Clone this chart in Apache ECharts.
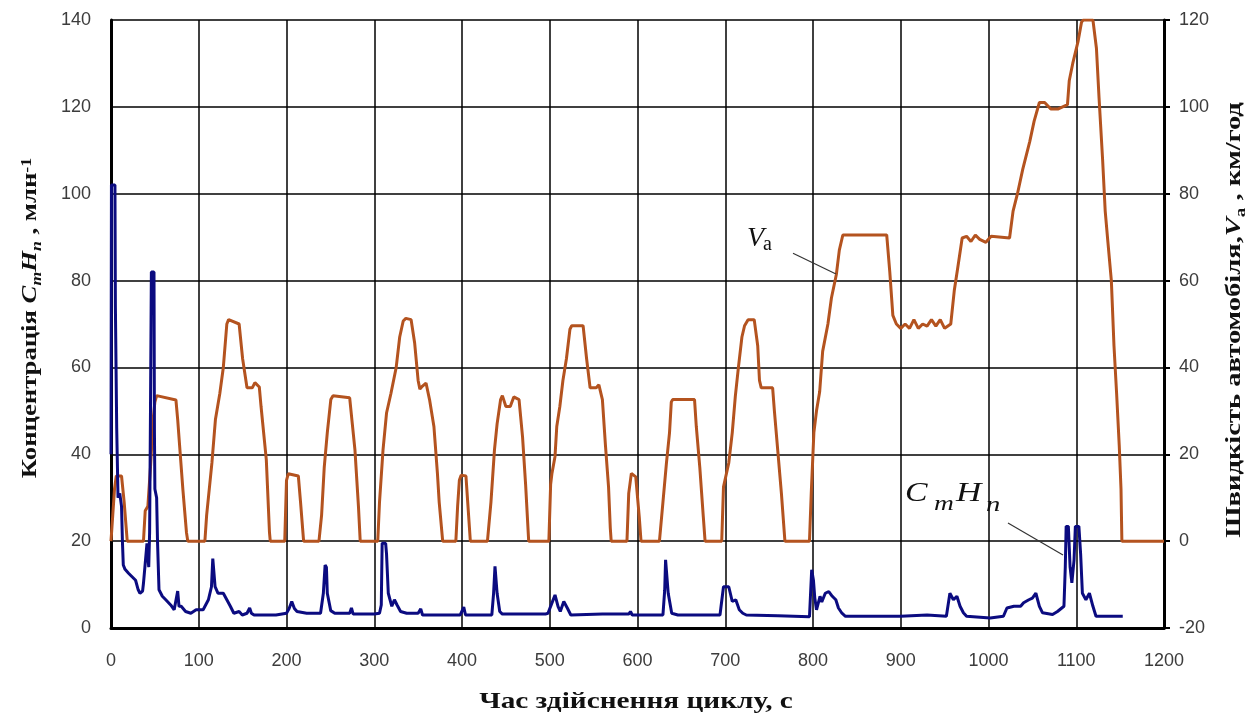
<!DOCTYPE html>
<html>
<head>
<meta charset="utf-8">
<script src="https://cdn.jsdelivr.net/npm/echarts@6/dist/echarts.min.js"></script>
<style>
html,body{margin:0;padding:0;background:#fff;}
#chart{width:1247px;height:720px;}
</style>
</head>
<body>
<div id="chart"></div>
<script>
// ---- data ----
// vehicle speed, km/h  [time s, speed]
const speedData = [
[0,0],[2,6],[4,12],[6,15],[12,15],[15,9],[18.5,0],
[37,0],[39,7],[42,8],[45,17],[48,28],[50,32],[52,33.5],[74,32.5],[76,28],[78,22.5],[82,11.7],[86,2],[87.5,0],
[107,0],[109,6],[115,18],[119,28],[124,34],[128,40],[132,50],[134,51],[146,50],[150,42],[155,35.3],[161,35.3],[164,36.5],[169,35.5],[171,31],[177,18.7],[180.6,2],[181.5,0],
[198,0],[200,14],[202,15.5],[213.5,15],[216,9],[219.5,0],
[237,0],[240,6],[243,17],[246.5,25],[250.5,32.6],[253,33.5],[272,33],[275,27],[278,21],[282,8],[284,0],
[304,0],[306,9],[310,21],[314,29.5],[319,34],[325,40],[329,47],[333,50.7],[336,51.3],[342,51],[346,45.7],[350,37],[352,35],[355,35.7],[359,36.4],[363,32.6],[368,26.4],[372,15.6],[374,9],[378,0],
[393,0],[395,8],[397,14],[399,15.2],[404.5,15],[406.5,9],[409.5,0],
[429,0],[433,9],[437,21],[440,27],[444,32.6],[446,33.5],[450,31],[455,31],[459,33.2],[465,32.6],[469,24],[472.5,13],[476,0],
[499,0],[501,13],[502.5,15.6],[506,19.5],[508,26.4],[511.5,31],[515,37],[519,42],[523,48.8],[525,49.6],[538,49.6],[542,42],[546,35.3],[553,35.3],[556,36],[560,32.6],[563.5,22],[567,12.5],[569,3],[570,0],
[588,0],[590,11],[593,15.6],[595,15.8],[598,14.8],[602,5.6],[604,0],
[625,0],[629,9],[633,18],[636.5,25],[638.5,32],[640,32.6],[665,32.6],[667,26.4],[671,17],[675,5.6],[677,0],
[696,0],[698,12.5],[704,18],[708,25],[711.5,33.4],[715,40],[719,47],[722,49.6],[726,51],[733,51],[737,45],[739,37],[741,35.3],[754,35.3],[756,30],[760,20.5],[764,11],[768,0],
[796,0],[798,11],[801,25],[804,30],[807.6,34.4],[811,43.7],[817,50],[821,56],[826.6,61.4],[830,67],[834,70.5],[884,70.5],[887.5,62],[891,52],[895,50],[900,49],[905,50],[910,49],[915,51],[920,49],[925,50],[930,49.5],[935,51],[940,49.5],[945,51],[950,49],[957,50],[961,57.7],[965,63],[970,69.8],[975,70.2],[980,69],[985,70.5],[990,69.5],[997,68.8],[1003,70.2],[1024,69.8],[1028,76],[1033,80],[1039,85.6],[1047,92],[1052,96.7],[1058,101],[1064,101],[1071,99.5],[1079,99.5],[1090,100.5],[1092,106],[1096,110],[1102,115],[1106,119.5],[1108,120],[1119,120],[1123,113.5],[1126,102],[1130,88],[1133,76],[1136,69],[1140,60],[1143,45],[1146,34],[1149,22],[1151,12],[1152,0],[1200,0]
];
// CmHn concentration, ppm  [time s, value]
const hcData = [
[0,40],[0.5,102],[4.5,102],[5,74],[6,74],[6.5,46],[7.5,46],[8,30],[10,31],[12,28],[13,20],[14,14.5],[16,13.5],[20,12.6],[24,11.8],[28,11],[31,8.8],[33,8],[36,8.5],[37,10.3],[39,14.9],[41,19.5],[43,14],[44,22],[45,50],[46,82],[49,82],[49.5,45],[50,32],[52,30],[53,20],[54.7,8.8],[58.5,7.3],[62.4,6.5],[68,5.3],[72,4.2],[74,4.5],[76,8.5],[77.5,5],[80,5],[85,3.8],[91,3.4],[97,4.2],[105,4.2],[111,6.5],[114.5,9.5],[116,16],[117.5,16],[118.6,9.5],[122,8],[128,8],[132,6.5],[136,5],[140,3.4],[146,3.8],[149.6,3],[155,3.4],[158,4.6],[160,3.4],[163,3],[188,3],[200,3.4],[203,4.5],[206,6.1],[209,4.5],[212,3.8],[223,3.4],[238.8,3.4],[242,8],[244,14.5],[245.5,14],[246.5,8],[250.4,4],[255,3.4],[272,3.4],[274,4.6],[276,3.2],[300,3.2],[306,3.4],[308,5.3],[309,19.5],[313,19.5],[314,17],[316,8],[320,5],[323,6.5],[326,5.3],[330,3.8],[337,3.4],[350,3.4],[353,4.4],[355,3],[398,3],[400,3.4],[402,4.8],[404,3],[434,3],[436,8],[437.6,14.2],[439,13.8],[440,8],[443,3.8],[446,3.2],[470,3.2],[495,3.2],[498,3.4],[502,5.5],[506,7.6],[509.5,4.9],[512,3.8],[516,6.1],[520,4.6],[524,3],[560,3.2],[590,3.2],[592,3.8],[594,3],[629,3],[631,8.7],[632,15.7],[633.5,15.3],[635,8],[639,3.4],[646,3],[680,3],[694,3],[698,9.5],[704,9.5],[708,6.1],[712,6.5],[716,4.2],[720,3.4],[724,3],[760,2.8],[796,2.6],[798.5,13.4],[800.5,11],[802,7],[804,4.2],[808,7.3],[810,6],[814,8],[818,8.4],[822,7.3],[826,6.5],[829,4.6],[833,3.4],[837,2.7],[900,2.7],[930,3],[952,2.7],[956,8],[960,6.5],[964,7.3],[967.6,5],[971.4,3.5],[975,2.7],[1002,2.3],[1017,2.7],[1021,4.6],[1029,5],[1036.6,5],[1040,5.8],[1046,6.5],[1050,6.9],[1054,8],[1058,5],[1061.6,3.5],[1073,3.1],[1078.6,3.8],[1086,5],[1087.5,14],[1088.5,23.4],[1091,23.4],[1093,14],[1095,10.4],[1097.5,15.7],[1099,23.4],[1103,23.4],[1105,17],[1107,8],[1111,6.5],[1115,8],[1119,5],[1122.5,2.7],[1153,2.7]
];
const xTicks = {min:0, max:1200, step:100};
const yLeftTicks = {min:0, max:140, step:20};
const yRightTicks = {min:-20, max:120, step:20};

// ---- chart ----
const serif = '"Liberation Serif","DejaVu Serif","Times New Roman",serif';
const sans = '"Liberation Sans","Arial",sans-serif';
const labelStyle = {fontFamily: sans, fontSize: 18, color: '#3c3c3c', formatter: v => String(v)};
const chart = echarts.init(document.getElementById('chart'), null, {renderer:'canvas'});

const option = {
  animation: false,
  backgroundColor: '#fff',
  grid: {left: 111, right: 83, top: 20, bottom: 92, containLabel: false},
  xAxis: {
    type: 'value', min: xTicks.min, max: xTicks.max, interval: xTicks.step,
    axisLine: {show: true, onZero: false, lineStyle: {color: '#000', width: 3}},
    axisTick: {show: false},
    splitLine: {show: true, lineStyle: {color: '#000', width: 1.5}},
    axisLabel: Object.assign({margin: 24}, labelStyle)
  },
  yAxis: [
    {
      type: 'value', position: 'left', min: yLeftTicks.min, max: yLeftTicks.max, interval: yLeftTicks.step,
      axisLine: {show: true, lineStyle: {color: '#000', width: 3}},
      axisTick: {show: false},
      splitLine: {show: true, lineStyle: {color: '#000', width: 1.5}},
      axisLabel: Object.assign({margin: 20}, labelStyle)
    },
    {
      type: 'value', position: 'right', min: yRightTicks.min, max: yRightTicks.max, interval: yRightTicks.step,
      axisLine: {show: true, lineStyle: {color: '#000', width: 3}},
      axisTick: {show: true, inside: false, length: 6, lineStyle: {color: '#000', width: 2}},
      splitLine: {show: false},
      axisLabel: Object.assign({margin: 15}, labelStyle)
    }
  ],
  series: [
    {
      name: 'Va', type: 'line', yAxisIndex: 1, data: speedData,
      showSymbol: false, smooth: false,
      lineStyle: {color: '#B4531F', width: 3},
      z: 2
    },
    {
      name: 'CmHn', type: 'line', yAxisIndex: 0, data: hcData,
      showSymbol: false, smooth: false,
      lineStyle: {color: '#0B0B80', width: 3},
      z: 3
    }
  ]
};
chart.setOption(option);

// annotation anchors in data coordinates (time, left-axis value)
const px = (t, v) => chart.convertToPixel({xAxisIndex: 0, yAxisIndex: 0}, [t, v]);
const pV = px(724.8, 89.6), pVa = px(743, 88.2), lV1 = px(777.2, 86.3), lV2 = px(826.2, 81.5);
const pC = px(904.8, 30.85), pm = px(937.9, 28.4), pH = px(963, 30.85), pn = px(997.1, 28.2);
const lC1 = px(1022.2, 24.2), lC2 = px(1084.9, 16.8);

function txt(p, text, size, italic, sx) {
  return {
    type: 'text', x: p[0], y: p[1], z: 10, scaleX: sx || 1,
    style: {text: text, fontFamily: serif, fontSize: size, fontStyle: italic ? 'italic' : 'normal',
            fill: '#111', align: 'left', verticalAlign: 'middle'}
  };
}

const titleRich = {
  t: {fontFamily: serif, fontSize: 21, fontWeight: 'bold', fill: '#111', lineHeight: 24, verticalAlign: 'top'},
  i: {fontFamily: serif, fontSize: 21, fontWeight: 'bold', fontStyle: 'italic', fill: '#111', lineHeight: 24, verticalAlign: 'top'},
  sub: {fontFamily: serif, fontSize: 14, fontWeight: 'bold', fontStyle: 'italic', fill: '#111', lineHeight: 14, padding: [13, 0, 0, 0], verticalAlign: 'bottom'},
  subr: {fontFamily: serif, fontSize: 14, fontWeight: 'bold', fill: '#111', lineHeight: 14, padding: [13, 0, 0, 0], verticalAlign: 'bottom'},
  sup: {fontFamily: serif, fontSize: 14, fontWeight: 'bold', fill: '#111', lineHeight: 14, verticalAlign: 'top'}
};

chart.setOption({
  graphic: [
    // x-axis title
    {type: 'text', x: 636, y: 702, z: 10, scaleX: 1.22,
     style: {text: 'Час здійснення циклу, с', fontFamily: serif, fontSize: 24, fontWeight: 'bold', fill: '#111', align: 'center', verticalAlign: 'middle'}},
    // left axis title
    {type: 'text', x: 32, y: 318, rotation: Math.PI / 2, z: 10, scaleX: 1.27,
     style: {text: '{t|Концентрація }{i|C}{sub|m}{i|H}{sub|n}{t| , млн}{sup|-1}', rich: titleRich, align: 'center', verticalAlign: 'middle'}},
    // right axis title
    {type: 'text', x: 1236, y: 320, rotation: Math.PI / 2, z: 10, scaleX: 1.36,
     style: {text: '{t|Швидкість автомобіля,}{i|V}{subr|а}{t| , км/год}', rich: titleRich, align: 'center', verticalAlign: 'middle'}},
    // Va label
    txt(pV, 'V', 28, true, 1),
    txt(pVa, 'а', 20, false, 1),
    {type: 'line', z: 10, shape: {x1: lV1[0], y1: lV1[1], x2: lV2[0], y2: lV2[1]}, style: {stroke: '#333', lineWidth: 1.2}},
    // CmHn label
    txt(pC, 'C', 27, true, 1.25),
    txt(pm, 'm', 22, true, 1.25),
    txt(pH, 'H', 27, true, 1.3),
    txt(pn, 'n', 22, true, 1.3),
    {type: 'line', z: 10, shape: {x1: lC1[0], y1: lC1[1], x2: lC2[0], y2: lC2[1]}, style: {stroke: '#333', lineWidth: 1.2}}
  ]
});
</script>
</body>
</html>
